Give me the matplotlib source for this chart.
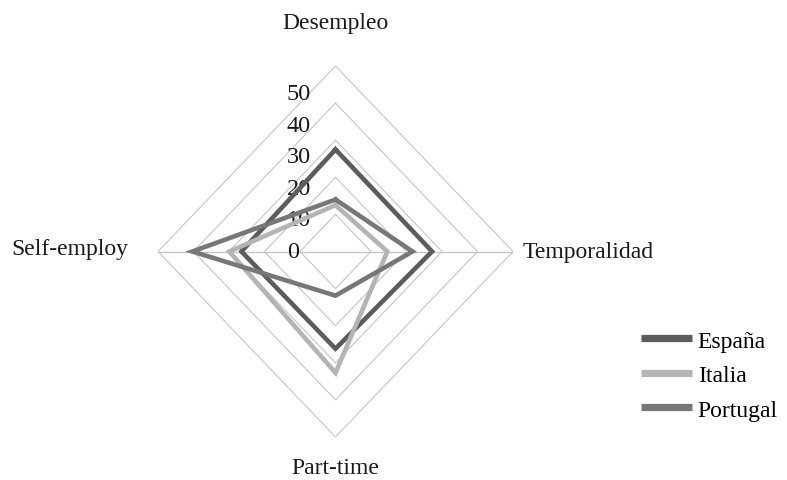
import numpy as np
import matplotlib.pyplot as plt
from matplotlib.lines import Line2D

# --- Data ---
categories = ['Desempleo', 'Temporalidad', 'Part-time', 'Self-employ']
espana = [27.5, 27.2, 26.2, 26.5]
italia = [12.5, 14.6, 32.7, 29.9]
portugal = [14.0, 21.7, 11.9, 40.3]
ring_levels = [10, 20, 30, 40, 50]
tick_labels = ['0', '10', '20', '30', '40', '50']

series = [('España', espana, '#5a5d5f'),
          ('Italia', italia, '#b4b4b4'),
          ('Portugal', portugal, '#74787a')]

plt.rcParams['font.family'] = ['Liberation Serif', 'DejaVu Serif']

# clockwise from the top
angles = np.arange(len(categories)) * 2 * np.pi / len(categories)


def to_xy(values):
    v = np.asarray(values, dtype=float)
    x = v * np.sin(angles)
    y = v * np.cos(angles)
    # close the polygon
    return np.append(x, x[0]), np.append(y, y[0])


fig = plt.figure(figsize=(7.87, 4.81), dpi=100)
ax = fig.add_axes([158 / 787, 1 - 438 / 481, 355 / 787, 371 / 481])
ax.set_xlim(-50, 50)
ax.set_ylim(-50, 50)
ax.axis('off')

# --- Diamond grid ---
for lev in ring_levels:
    gx, gy = to_xy([lev] * len(categories))
    ax.plot(gx, gy, color='#c6c6c6', lw=0.8, zorder=1)
ax.plot([-50, 50], [0, 0], color='#c6c6c6', lw=1.0, zorder=1)

# --- Series ---
for name, vals, col in series:
    sx, sy = to_xy(vals)
    ax.plot(sx, sy, color=col, lw=3.3, solid_joinstyle='miter', zorder=3)

# --- Value labels (placed like the original, slightly compressed) ---
for i, lab in enumerate(tick_labels):
    ax.text(-13.7, i * 10 * 0.85, lab, ha='left', va='center',
            fontsize=17.5, color='#1a1a1a', zorder=2)

# --- Category labels ---
offsets = [(0, 31, 'center', 'center'),
           (7, 0, 'left', 'center'),
           (0, -22, 'center', 'center'),
           (-21, 2, 'right', 'center')]
for i, cat in enumerate(categories):
    px = 50 * np.sin(angles[i])
    py = 50 * np.cos(angles[i])
    dx, dy, ha, va = offsets[i]
    ax.annotate(cat, xy=(px, py), xytext=(dx, dy), textcoords='offset points',
                ha=ha, va=va, fontsize=17, color='#1a1a1a')

# --- Legend ---
handles = [Line2D([], [], color=c, lw=5.2, solid_capstyle='butt') for _, _, c in series]
fig.legend(handles, [s[0] for s in series], loc='upper left',
           bbox_to_anchor=(641 / 787, 1 - 331 / 481), frameon=False,
           fontsize=17, handlelength=2.15, handletextpad=0.25,
           labelspacing=0.55, borderpad=0, borderaxespad=0)

fig.savefig('out.png', dpi=100)
